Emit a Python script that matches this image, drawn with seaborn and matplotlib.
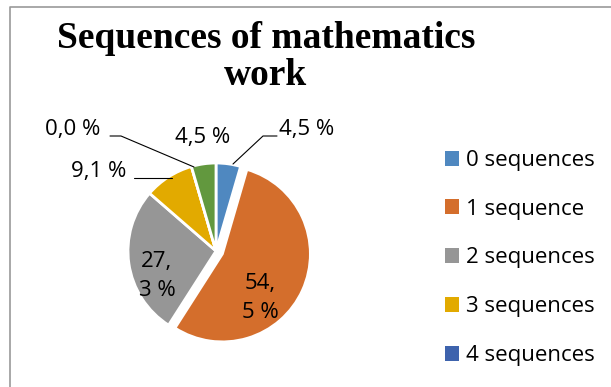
import matplotlib
matplotlib.use("Agg")
import matplotlib.pyplot as plt
from matplotlib.patches import Patch
import seaborn as sns

# ---- data ----
categories = ["0 sequences", "1 sequence", "2 sequences", "3 sequences", "4 sequences", "5 sequences"]
shares = [4.5, 54.5, 27.3, 9.1, 0.0, 4.5]
colors = ["#4F88C0", "#D46E2C", "#969696", "#E2AA00", "#3E63AD", "#62983E"]
legend_count = 5  # legend is cut off after the 5th entry in the reference
title = "Sequences of mathematics\nwork"

sns.set_theme(style="white")
plt.rcParams["font.family"] = ["Open Sans", "DejaVu Sans"]
plt.rcParams["text.color"] = "black"

W, H = 611, 387
fig = plt.figure(figsize=(W / 100, H / 100), dpi=100)
ax = fig.add_axes([0, 0, 1, 1])

def P(x, y):
    return x, H - y

cx, cy = P(216, 251)
R = 88
explode = [0, 7, 0, 0, 0, 0]
wedges, _ = ax.pie(shares, colors=colors, startangle=90, counterclock=False,
                   explode=explode, radius=R, center=(cx, cy),
                   wedgeprops=dict(edgecolor="white", linewidth=2))
ax.set_xlim(0, W)
ax.set_ylim(0, H)
ax.set_aspect("equal")
ax.axis("off")

def fmt(v):
    return f"{v:.1f} %".replace(".", ",")

fs = 16
tc = "black"
lbl = [fmt(v) for v in shares]
ax.text(*P(307, 129), lbl[0], ha="center", va="center", fontsize=fs, color=tc)
ax.plot(*zip(P(233, 164), P(263, 136), P(277, 136)), color="black", lw=0.8)
ax.text(*P(203, 137), lbl[5], ha="center", va="center", fontsize=fs, color=tc)
ax.text(*P(73, 129), lbl[4], ha="center", va="center", fontsize=fs, color=tc)
ax.plot(*zip(P(110, 136), P(121, 136), P(194, 167)), color="black", lw=0.8)
ax.text(*P(99, 171), lbl[3], ha="center", va="center", fontsize=fs, color=tc)
ax.plot(*zip(P(134, 178), P(172, 178)), color="black", lw=0.8)

def wrap(s):
    a, b = s.split(",")
    return a + ",\n" + b

ax.text(*P(260, 298), wrap(lbl[1]), ha="center", va="center", fontsize=fs,
        linespacing=1.55, color=tc)
ax.text(*P(157, 276), wrap(lbl[2]), ha="center", va="center", fontsize=fs,
        linespacing=1.55, color=tc)

# title
ax.text(*P(266, 57), title, ha="center", va="center", fontsize=27, fontweight="bold",
        family="Liberation Serif", linespacing=1.1, color=tc)

# chart border (only top and left visible)
ax.plot(*zip(P(10, 700), P(10, 7), P(700, 7)), color="#999999", lw=1.2, clip_on=False)

handles = [Patch(facecolor=colors[i], edgecolor="none") for i in range(legend_count)]
leg = ax.legend(handles, categories[:legend_count], loc="upper left",
                bbox_to_anchor=(436 / W, 1 - 141 / H), frameon=False, fontsize=fs,
                handlelength=0.65, handleheight=0.65, handletextpad=0.3,
                labelspacing=1.25, borderaxespad=0, labelcolor=tc)

fig.savefig("out.png", dpi=100)
